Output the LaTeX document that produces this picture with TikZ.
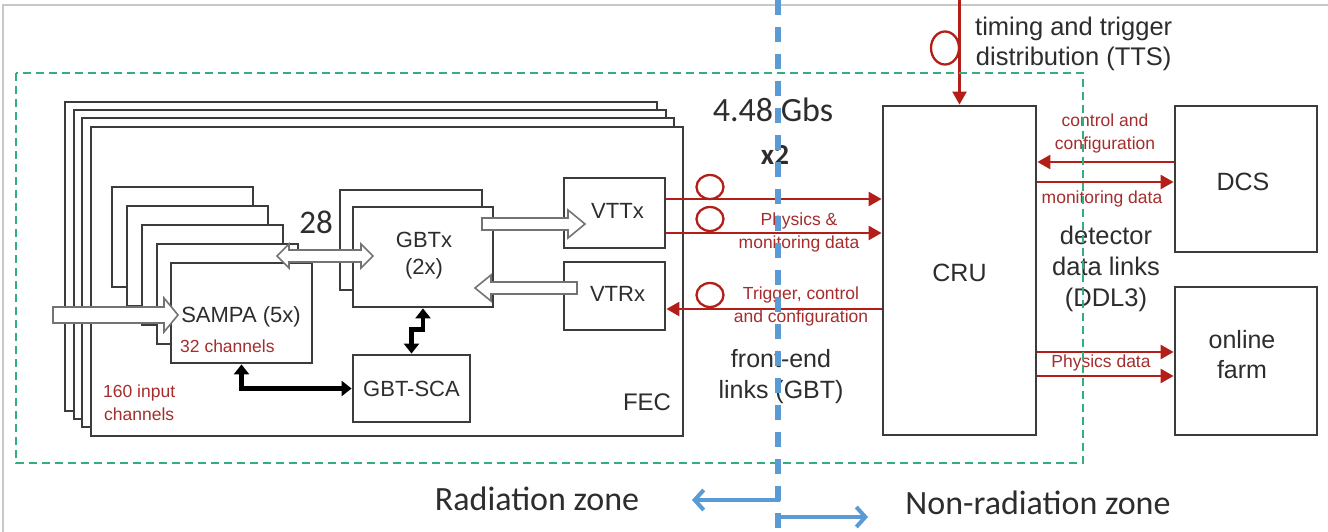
\documentclass[tikz,border=0pt]{standalone}
\usepackage{fontspec}
\setmainfont{Liberation Sans}
\newfontfamily\calfont{Carlito}
\usetikzlibrary{arrows.meta,shapes.geometric,fit,calc}
\definecolor{boxgray}{RGB}{60,60,60}
\definecolor{linkred}{RGB}{180,30,25}
\definecolor{labred}{RGB}{165,45,45}
\definecolor{zoneblue}{RGB}{91,155,213}
\definecolor{zonegreen}{RGB}{50,175,125}
\definecolor{txt}{RGB}{45,45,45}
\definecolor{framegray}{RGB}{200,200,200}
\newcommand\setfs[2]{\fontsize{#1}{#2}\selectfont}
\begin{document}
\begin{tikzpicture}[x=1pt,y=-1pt,
  card/.style={draw=boxgray,line width=2.8pt,fill=white,inner sep=0pt},
  lab/.style={text=txt,align=center,inner sep=0pt},
  redlab/.style={text=labred,align=center,inner sep=0pt,font=\setfs{17.5}{23}},
  hollow/.style={draw=black!55,line width=1.6pt,fill=white,line join=miter},
  blk/.style={draw=black,line width=4.5pt,{Triangle[width=15pt,length=10pt]}-{Triangle[width=15pt,length=10pt]}},
  redarrow/.style={draw=linkred,line width=2.4pt,-{Triangle[width=14pt,length=13pt]}},
  loopc/.style={draw=linkred,line width=2.3pt,ellipse,minimum width=27pt,minimum height=24pt,inner sep=0pt},
  zonearrow/.style={draw=zoneblue,line width=4pt,-{Straight Barb[length=9pt,width=20pt,line width=4pt]}}
]
\useasboundingbox (0,0) rectangle (1328,532);
\fill[white] (0,0) rectangle (1328,532);
% frame
\coordinate (fa) at (3,532);
\coordinate (fb) at (3,5);
\coordinate (fc) at (1328,5);
\draw[framegray,line width=1.2pt] (fa) -- (fb) -- (fc);

% FEC stack
\node[card,fit={(65,102) (657,411)}] (fec0) {};
\node[card,fit={(74,110) (666,419)}] (fec1) {};
\node[card,fit={(82,118) (674,427)}] (fec2) {};
\node[card,fit={(91,127) (683,436)}] (fec) {};

% SAMPA stack
\node[card,fit={(112,187) (253,287)}] (sampa0) {};
\node[card,fit={(127,206) (268,306)}] (sampa1) {};
\node[card,fit={(142,225) (283,325)}] (sampa2) {};
\node[card,fit={(157,244) (298,344)}] (sampa3) {};
\node[card,fit={(171,263) (312,363)}] (sampa) {};
\node[lab,font=\setfs{22}{26}] (sampat) at (241,317) {SAMPA (5x)};
\node[redlab,anchor=west] (sampac) at (180,346) {32 channels};

% GBTx stack
\node[card,fit={(340,190) (482,290)}] (gbtx0) {};
\node[card,fit={(353,207) (493,307)}] (gbtx) {};
\node[lab,font=\setfs{22}{27}] (gbtxt) at (424,256) {GBTx\\(2x)};

% GBT-SCA
\node[card,fit={(353,355) (470,422)}] (sca) {};
\node[lab,font=\setfs{22}{26}] at (sca.center) {GBT-SCA};

% VTTx / VTRx
\node[card,fit={(564,178) (665,248)}] (vttx) {};
\node[lab,font=\setfs{22}{26}] at ($(vttx.center)+(3,-2)$) {VTTx};
\node[card,fit={(564,262) (665,330)}] (vtrx) {};
\node[lab,font=\setfs{22}{26}] at ($(vtrx.center)+(3,-2)$) {VTRx};

% texts in FEC
\node[redlab,anchor=west] (inp) at (103,403) {160 input\\channels};
\node[lab,font=\setfs{24}{28}] (fect) at (647,402) {FEC};
\node[lab,font=\calfont\setfs{33}{36}] (t28) at (316,222) {28};

% hollow arrows
\draw[hollow] (53,307) -- (164,307) -- (164,298) -- (178,315) -- (164,332) -- (164,323) -- (53,323) -- cycle;
\draw[hollow] (277,256) -- (289,244) -- (289,250) -- (361,250) -- (361,244) -- (373,256) -- (361,268) -- (361,262) -- (289,262) -- (289,268) -- cycle;
\draw[hollow] (482,218) -- (568,218) -- (568,210) -- (585,224) -- (568,238) -- (568,230) -- (482,230) -- cycle;
\draw[hollow] (577,282) -- (491,282) -- (491,275) -- (475,288) -- (491,301) -- (491,294) -- (577,294) -- cycle;

% black arrows
\draw[blk] (sampa.south) |- (sca.west);
\draw[blk] (gbtx.south) -- ++(0,21) -| (sca.north);

% CRU, DCS, farm
\node[card,fit={(883,106) (1036,435)}] (cru) {};
\node[lab,font=\setfs{25}{30}] at ($(cru.center)+(0,2)$) {CRU};
\node[card,fit={(1175,106) (1317,252)}] (dcs) {};
\node[lab,font=\setfs{25}{30}] at ($(dcs.center)+(-3,3)$) {DCS};
\node[card,fit={(1175,287) (1317,435)}] (farm) {};
\node[lab,font=\setfs{25}{30}] at ($(farm.center)+(-4,-6)$) {online\\farm};

% red links FEC <-> CRU
\draw[redarrow] ([yshift=14pt]vttx.east) -- ([yshift=14pt]vttx.east -| cru.west);
\draw[redarrow] ([yshift=-20pt]vttx.east) -- ([yshift=-20pt]vttx.east -| cru.west);
\draw[redarrow] ([yshift=-13pt]vtrx.east -| cru.west) -- ([yshift=-13pt]vtrx.east);
\node[loopc] (l1) at (710,187) {};
\node[loopc] (l2) at (710,219) {};
\node[loopc] (l3) at (710,295) {};
\node[redlab] (physl) at (799,232) {Physics \&\\monitoring data};
\node[redlab] (trigl) at (801,306.5) {Trigger, control\\and configuration};

% TTS
\coordinate (ttsin) at (cru.north |- 0,0);
\draw[redarrow] (ttsin) -- (cru.north);
\node[loopc,minimum width=28pt,minimum height=33pt] (l4) at (945,48) {};
\node[lab,anchor=west,font=\setfs{25.5}{30}] (ttst) at (975,44) {timing and trigger\\distribution (TTS)};

% CRU <-> DCS / farm
\draw[redarrow] ([yshift=17pt]dcs.west) -- ([yshift=17pt]dcs.west -| cru.east);
\draw[redarrow] ([yshift=-3pt]dcs.west -| cru.east) -- ([yshift=-3pt]dcs.west);
\node[redlab] (ctrl) at (1105,133.5) {control and\\configuration};
\node[redlab] (moni) at (1102,199) {monitoring data};
\draw[redarrow] ([yshift=9pt]farm.west -| cru.east) -- ([yshift=9pt]farm.west);
\draw[redarrow] ([yshift=-15pt]farm.west -| cru.east) -- ([yshift=-15pt]farm.west);
\node[redlab] (physd) at (1101,363) {Physics data};
\node[lab,font=\setfs{25.5}{31}] (ddl) at (1106,269) {detector\\data links\\(DDL3)};

% link labels
\node[lab,font=\calfont\setfs{34}{38}] (gbs) at (773,110) {4.48 Gbs};
\node[lab,font=\calfont\bfseries\setfs{29}{32}] (x2) at (775,155) {x2};
\node[lab,font=\setfs{25}{31}] (fel) at (781,377) {front-end\\links (GBT)};

% zones
\node[lab,font=\calfont\setfs{34}{38}] (radz) at (537,499) {Radiation zone};
\node[lab,font=\calfont\setfs{34}{38}] (nradz) at (1038,503) {Non-radiation zone};

% green radiation boundary
\draw[zonegreen,line width=1.4pt,dash pattern=on 8pt off 5pt] (16,73) rectangle (1083,463);

% blue zone divider
\coordinate (btop) at (778,0);
\coordinate (bbot) at (778,532);
\draw[zoneblue,line width=5.5pt,dash pattern=on 15pt off 12pt] (btop) -- (bbot);
\coordinate (zl0) at (780,500);
\coordinate (zl1) at (692,500);
\coordinate (zr0) at (776,517);
\coordinate (zr1) at (868,517);
\draw[zonearrow] (zl0) -- (zl1);
\draw[zonearrow] (zr0) -- (zr1);
\end{tikzpicture}
\end{document}
